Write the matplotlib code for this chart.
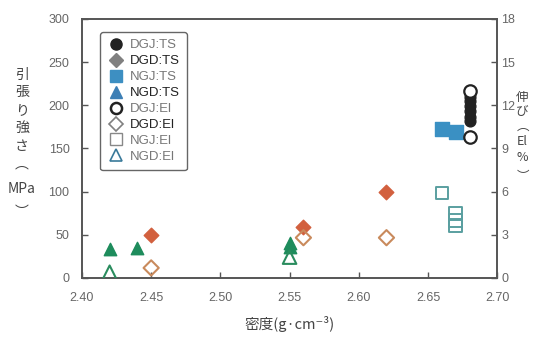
import matplotlib
matplotlib.use("Agg")
import matplotlib.pyplot as plt
from matplotlib.lines import Line2D

plt.rcParams['font.family'] = ['Noto Sans CJK JP', 'DejaVu Sans']

# Tensile strength (MPa) vs density (g/cm3)
dgj_ts_x = [2.68, 2.68, 2.68, 2.68, 2.68, 2.68]
dgj_ts_y = [182, 187, 193, 199, 205, 210]
dgd_ts_x = [2.45, 2.56, 2.62]
dgd_ts_y = [50, 59, 100]
ngj_ts_x = [2.66, 2.67]
ngj_ts_y = [173, 169]
ngd_ts_x = [2.42, 2.44, 2.55, 2.55]
ngd_ts_y = [34, 35, 40, 36]

# Elongation (%) vs density
dgj_el_x = [2.68, 2.68]
dgj_el_y = [13.0, 9.8]
dgd_el_x = [2.45, 2.56, 2.62]
dgd_el_y = [0.7, 2.8, 2.8]
ngj_el_x = [2.66, 2.67, 2.67, 2.67]
ngj_el_y = [5.9, 4.5, 4.0, 3.6]
ngd_el_x = [2.42, 2.55]
ngd_el_y = [0.4, 1.45]

x_ticks = [2.40, 2.45, 2.50, 2.55, 2.60, 2.65, 2.70]
x_tick_labels = ['2.40', '2.45', '2.50', '2.55', '2.60', '2.65', '2.70']
ts_ticks = [0, 50, 100, 150, 200, 250, 300]
el_ticks = [0, 3, 6, 9, 12, 15, 18]

spine_c = '#555555'
tick_c = '#666666'
label_c = '#444444'

fig = plt.figure(figsize=(5.5, 3.39), dpi=100)
ax = fig.add_axes([0.149, 0.180, 0.755, 0.764])
ax2 = ax.twinx()

ax.set_xlim(2.40, 2.70)
ax.set_ylim(0, 300)
ax2.set_ylim(0, 18)

# tensile strength (filled)
ax.scatter(ngd_ts_x, ngd_ts_y, marker='^', s=80, color='#1e8c5c', zorder=3)
ax.scatter(dgd_ts_x, dgd_ts_y, marker='D', s=55, color='#d2603e', zorder=3)
ax.scatter(ngj_ts_x, ngj_ts_y, marker='s', s=90, color='#3a90c3', zorder=3)
ax.scatter(dgj_ts_x, dgj_ts_y, marker='o', s=60, color='#222222', zorder=3)

# elongation (open)
ax2.scatter(ngd_el_x, ngd_el_y, marker='^', s=95, facecolor='none',
            edgecolor='#2a8c5e', linewidth=1.5, zorder=3)
ax2.scatter(dgd_el_x, dgd_el_y, marker='D', s=60, facecolor='none',
            edgecolor='#c98a5c', linewidth=1.5, zorder=3)
ax2.scatter(ngj_el_x, ngj_el_y, marker='s', s=80, facecolor='none',
            edgecolor='#5a9fa0', linewidth=1.4, zorder=3)
ax2.scatter(dgj_el_x, dgj_el_y, marker='o', s=80, facecolor='white',
            edgecolor='#222222', linewidth=1.6, zorder=4)

for a in (ax, ax2):
    for sp in a.spines.values():
        sp.set_color(spine_c)
        sp.set_linewidth(1.2)

ax.set_xticks(x_ticks)
ax.set_xticklabels(x_tick_labels)
ax.set_yticks(ts_ticks)
ax2.set_yticks(el_ticks)
ax.tick_params(axis='x', direction='in', length=4, width=1, color=spine_c,
               labelcolor=tick_c, labelsize=9, pad=10)
ax.tick_params(axis='y', direction='in', length=4, width=1, color=spine_c,
               labelcolor=tick_c, labelsize=9, pad=9)
ax2.tick_params(axis='y', direction='in', length=4, width=1, color=spine_c,
                labelcolor=tick_c, labelsize=9, pad=3)
for lab in ax.get_xticklabels() + ax.get_yticklabels() + ax2.get_yticklabels():
    lab.set_family('Liberation Sans')

ax.set_xlabel('密度(g·cm⁻³)', fontsize=10.5, color=label_c, labelpad=9)

# vertical axis titles, one glyph per line
left_chars = ['引', '張', 'り', '強', 'さ', '︵', 'MPa', '︶']
left_y = [0.778, 0.728, 0.676, 0.624, 0.568, 0.514, 0.442, 0.374]
for ch, yy in zip(left_chars, left_y):
    fig.text(0.040, yy, ch, fontsize=10, color=label_c, ha='center', va='center')

right_chars = ['伸', 'び', '︵', 'El', '%', '︶']
right_y = [0.712, 0.670, 0.628, 0.584, 0.534, 0.478]
for ch, yy in zip(right_chars, right_y):
    fig.text(0.950, yy, ch, fontsize=9, color=label_c, ha='center', va='center')

# legend
handles = [
    Line2D([], [], ls='none', marker='o', ms=8, color='#222222'),
    Line2D([], [], ls='none', marker='D', ms=7, color='#808080'),
    Line2D([], [], ls='none', marker='s', ms=8, color='#3d8fc2'),
    Line2D([], [], ls='none', marker='^', ms=8, color='#3d7fb5'),
    Line2D([], [], ls='none', marker='o', ms=8, mfc='none', mec='#222222', mew=1.8),
    Line2D([], [], ls='none', marker='D', ms=7, mfc='none', mec='#808080', mew=1.2),
    Line2D([], [], ls='none', marker='s', ms=8, mfc='none', mec='#888888', mew=1.0),
    Line2D([], [], ls='none', marker='^', ms=8, mfc='none', mec='#3a7a9a', mew=1.2),
]
labels = ['DGJ:TS', 'DGD:TS', 'NGJ:TS', 'NGD:TS',
          'DGJ:El', 'DGD:El', 'NGJ:El', 'NGD:El']
text_colors = ['#777777', '#222222', '#777777', '#222222',
               '#777777', '#222222', '#777777', '#777777']
leg = ax2.legend(handles, labels, loc='upper left',
                 bbox_to_anchor=(100 / 550, 1 - 32 / 339),
                 bbox_transform=fig.transFigure, frameon=True, fancybox=True,
                 prop={'family': 'Liberation Sans', 'size': 9.5},
                 handlelength=1.3, handletextpad=0.4, labelspacing=0.28,
                 borderpad=0.55, borderaxespad=0)
leg.get_frame().set_edgecolor('#666666')
leg.get_frame().set_linewidth(1.0)
leg.get_frame().set_alpha(1.0)
for t, c in zip(leg.get_texts(), text_colors):
    t.set_color(c)

fig.savefig('out.png', dpi=100)
